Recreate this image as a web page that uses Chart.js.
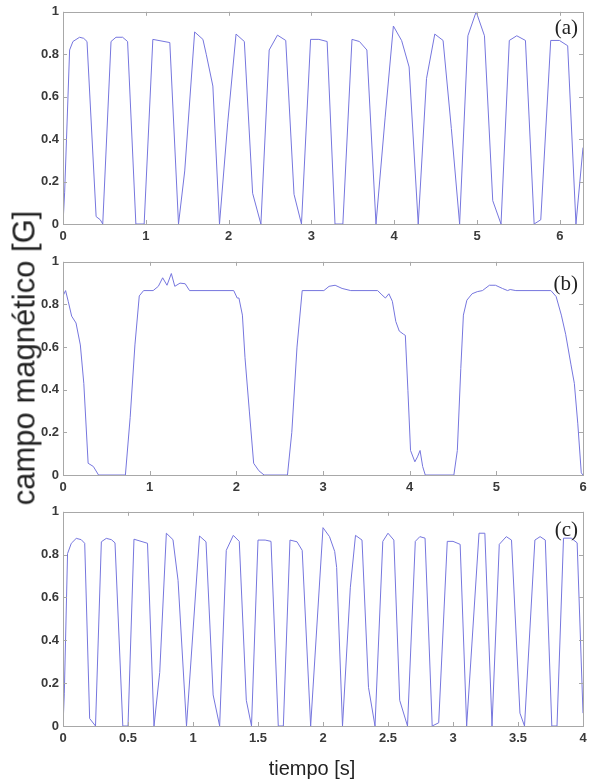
<!DOCTYPE html>
<html>
<head>
<meta charset="utf-8">
<script src="https://cdn.jsdelivr.net/npm/chart.js@4.4.1/dist/chart.umd.min.js"></script>
<style>
  body { margin: 0; background: #fff; }
  #wrap { position: relative; width: 593px; height: 781px; overflow: hidden; }
  canvas { position: absolute; left: 0; }
  .ylab {
    position: absolute; left: 24px; top: 358px;
    transform: translate(-50%, -50%) rotate(-90deg);
    font: 31px "Liberation Sans", Arial, sans-serif; color: #222;
    white-space: nowrap; line-height: 1;
  }
  .xlab {
    position: absolute; left: 312px; top: 768px;
    transform: translate(-50%, -50%);
    font: 20px "Liberation Sans", Arial, sans-serif; color: #222;
    white-space: nowrap; line-height: 1;
  }
</style>
</head>
<body>
<div id="wrap">
  <canvas id="panelA" width="593" height="250" style="top:0"></canvas>
  <canvas id="panelB" width="593" height="250" style="top:250px"></canvas>
  <canvas id="panelC" width="593" height="281" style="top:500px"></canvas>
  <div class="ylab">campo magnético [G]</div>
  <div class="xlab">tiempo [s]</div>
</div>
<script>
// Panel (a)
const tA = [0, 0.02, 0.08, 0.12, 0.2, 0.25, 0.29, 0.4, 0.45, 0.48,
    0.58, 0.64, 0.72, 0.78, 0.88, 0.98, 1.085, 1.29, 1.395, 1.47,
    1.59, 1.69, 1.73, 1.81, 1.89, 1.99, 2.09, 2.19, 2.29, 2.39,
    2.49, 2.59, 2.69, 2.79, 2.88, 2.99, 3.09, 3.19, 3.285, 3.38,
    3.49, 3.58, 3.67, 3.78, 3.89, 3.99, 4.09, 4.18, 4.29, 4.39,
    4.49, 4.59, 4.69, 4.79, 4.89, 4.99, 5.09, 5.19, 5.29, 5.39,
    5.48, 5.585, 5.69, 5.77, 5.89, 5.995, 6.095, 6.195, 6.28];
const bA = [0, 0.15, 0.82, 0.86, 0.88, 0.875, 0.86, 0.035, 0.02, 0,
    0.86, 0.88, 0.88, 0.86, 0, 0, 0.87, 0.855, 0, 0.25,
    0.905, 0.87, 0.8, 0.65, 0, 0.48, 0.895, 0.86, 0.145, 0,
    0.82, 0.89, 0.865, 0.14, 0, 0.87, 0.87, 0.86, 0, 0,
    0.87, 0.86, 0.82, 0, 0.5, 0.933, 0.864, 0.74, 0, 0.685,
    0.895, 0.865, 0.45, 0, 0.887, 1.0, 0.887, 0.11, 0, 0.865,
    0.887, 0.865, 0, 0.02, 0.865, 0.865, 0.84, 0, 0.36];

// Panel (b)
const tB = [0, 0.03, 0.06, 0.10, 0.15, 0.20, 0.24, 0.29, 0.35, 0.41,
    0.72, 0.775, 0.83, 0.88, 0.93, 1.04, 1.10, 1.15, 1.20, 1.25,
    1.29, 1.35, 1.41, 1.46, 1.97, 2.01, 2.03, 2.07, 2.10, 2.15,
    2.20, 2.26, 2.32, 2.59, 2.64, 2.70, 2.76, 3.01, 3.07, 3.14,
    3.22, 3.32, 3.63, 3.68, 3.72, 3.76, 3.80, 3.84, 3.88, 3.93,
    3.95, 3.98, 4.01, 4.06, 4.09, 4.12, 4.15, 4.18, 4.51, 4.55,
    4.59, 4.62, 4.66, 4.72, 4.78, 4.84, 4.92, 4.99, 5.07, 5.13,
    5.16, 5.225, 5.63, 5.69, 5.75, 5.80, 5.86, 5.90, 5.94, 5.98, 6.0];
const bB = [0.84, 0.865, 0.815, 0.745, 0.713, 0.61, 0.43, 0.055, 0.04, 0,
    0, 0.27, 0.61, 0.84, 0.865, 0.865, 0.885, 0.925, 0.89, 0.945,
    0.885, 0.9, 0.897, 0.865, 0.865, 0.83, 0.83, 0.75, 0.55, 0.30,
    0.055, 0.02, 0, 0, 0.2, 0.6, 0.865, 0.865, 0.885, 0.89,
    0.875, 0.865, 0.865, 0.845, 0.83, 0.85, 0.815, 0.72, 0.675, 0.66,
    0.655, 0.395, 0.115, 0.062, 0.085, 0.115, 0.04, 0, 0, 0.115,
    0.5, 0.75, 0.82, 0.85, 0.86, 0.865, 0.89, 0.89, 0.875, 0.865,
    0.87, 0.865, 0.865, 0.837, 0.75, 0.66, 0.52, 0.43, 0.24, 0.01, 0];

// Panel (c)
const tC = [0, 0.01, 0.035, 0.064, 0.102, 0.14, 0.167, 0.205, 0.25, 0.295,
    0.333, 0.372, 0.40, 0.46, 0.50, 0.546, 0.65, 0.70, 0.744, 0.795,
    0.846, 0.885, 0.95, 1.05, 1.10, 1.155, 1.205, 1.256, 1.31, 1.356,
    1.41, 1.45, 1.50, 1.555, 1.60, 1.656, 1.695, 1.746, 1.80, 1.84,
    1.905, 2.0, 2.05, 2.09, 2.105, 2.15, 2.21, 2.25, 2.30, 2.35,
    2.40, 2.46, 2.50, 2.545, 2.59, 2.65, 2.71, 2.745, 2.785, 2.84,
    2.89, 2.956, 3.0, 3.055, 3.105, 3.20, 3.245, 3.30, 3.356, 3.41,
    3.45, 3.515, 3.55, 3.63, 3.67, 3.71, 3.76, 3.80, 3.85, 3.91, 3.955, 4.0];
const bC = [0, 0.15, 0.805, 0.853, 0.876, 0.87, 0.853, 0.035, 0, 0.86,
    0.876, 0.87, 0.855, 0, 0, 0.872, 0.853, 0, 0.25, 0.9,
    0.87, 0.68, 0, 0.887, 0.86, 0.145, 0, 0.82, 0.89, 0.862,
    0.12, 0, 0.868, 0.868, 0.862, 0, 0, 0.868, 0.86, 0.82,
    0, 0.926, 0.884, 0.815, 0.74, 0, 0.645, 0.89, 0.868, 0.18,
    0, 0.862, 0.9, 0.868, 0.12, 0, 0.862, 0.884, 0.877, 0,
    0.015, 0.862, 0.862, 0.848, 0, 0.9, 0.9, 0, 0.848, 0.884,
    0.868, 0.06, 0, 0.868, 0.884, 0.868, 0, 0, 0.877, 0.877, 0.855, 0.06];

Chart.defaults.font.family = '"Liberation Sans", Arial, sans-serif';
Chart.defaults.font.size = 13;
Chart.defaults.font.weight = 'bold';
Chart.defaults.color = '#3a3a3a';

// matlab style tick text: 1 not 1.0
const shortNum = v => String(+Number(v).toFixed(2));

// box around the plot area, inward ticks on every side, panel letter
const matlabFrame = {
    id: 'matlabFrame',
    afterDatasetsDraw(chart, args, opts) {
        const { ctx, chartArea: a, scales: { x, y } } = chart;
        ctx.save();
        ctx.strokeStyle = '#a8a8a8';
        ctx.lineWidth = 1;
        ctx.strokeRect(Math.round(a.left) + 0.5, Math.round(a.top) + 0.5,
            Math.round(a.width), Math.round(a.height));
        ctx.beginPath();
        x.ticks.forEach(t => {
            const px = Math.round(x.getPixelForValue(t.value)) + 0.5;
            ctx.moveTo(px, a.bottom); ctx.lineTo(px, a.bottom - 4);
            ctx.moveTo(px, a.top); ctx.lineTo(px, a.top + 4);
        });
        y.ticks.forEach(t => {
            const py = Math.round(y.getPixelForValue(t.value)) + 0.5;
            ctx.moveTo(a.left, py); ctx.lineTo(a.left + 4, py);
            ctx.moveTo(a.right, py); ctx.lineTo(a.right - 4, py);
        });
        ctx.stroke();
        ctx.fillStyle = '#222';
        ctx.font = '21px "Liberation Serif", serif';
        ctx.textAlign = 'right';
        ctx.textBaseline = 'top';
        ctx.fillText(opts.label, a.right - 5, a.top + opts.labelTop);
        ctx.restore();
    }
};

function makePanel(id, times, values, xMax, xStep, label, top, axisHeight, labelTop) {
    const points = times.map((t, i) => ({ x: t, y: values[i] }));
    return new Chart(document.getElementById(id), {
        type: 'line',
        data: {
            datasets: [{
                data: points,
                borderColor: 'rgb(118, 118, 222)',
                borderWidth: 1,
                pointRadius: 0,
                tension: 0,
                fill: false
            }]
        },
        options: {
            responsive: false,
            animation: false,
            devicePixelRatio: 1,
            layout: { padding: { top: top, right: 10, left: 0, bottom: 0 } },
            plugins: {
                legend: { display: false },
                tooltip: { enabled: false },
                matlabFrame: { label: label, labelTop: labelTop }
            },
            scales: {
                x: {
                    type: 'linear',
                    min: 0,
                    max: xMax,
                    grid: { display: false, drawTicks: false },
                    border: { display: false },
                    ticks: { stepSize: xStep, includeBounds: false, padding: 5, maxRotation: 0, callback: shortNum },
                    afterFit: s => { s.height = axisHeight; }
                },
                y: {
                    min: 0,
                    max: 1,
                    grid: { display: false, drawTicks: false },
                    border: { display: false },
                    ticks: { stepSize: 0.2, padding: 4, callback: shortNum },
                    afterFit: s => { s.width = 63; }
                }
            }
        },
        plugins: [matlabFrame]
    });
}

makePanel('panelA', tA, bA, 6.28, 1, '(a)', 9, 26, 6);
makePanel('panelB', tB, bB, 6, 1, '(b)', 10, 25, 12);
makePanel('panelC', tC, bC, 4, 0.5, '(c)', 10, 55, 8);
</script>
</body>
</html>
